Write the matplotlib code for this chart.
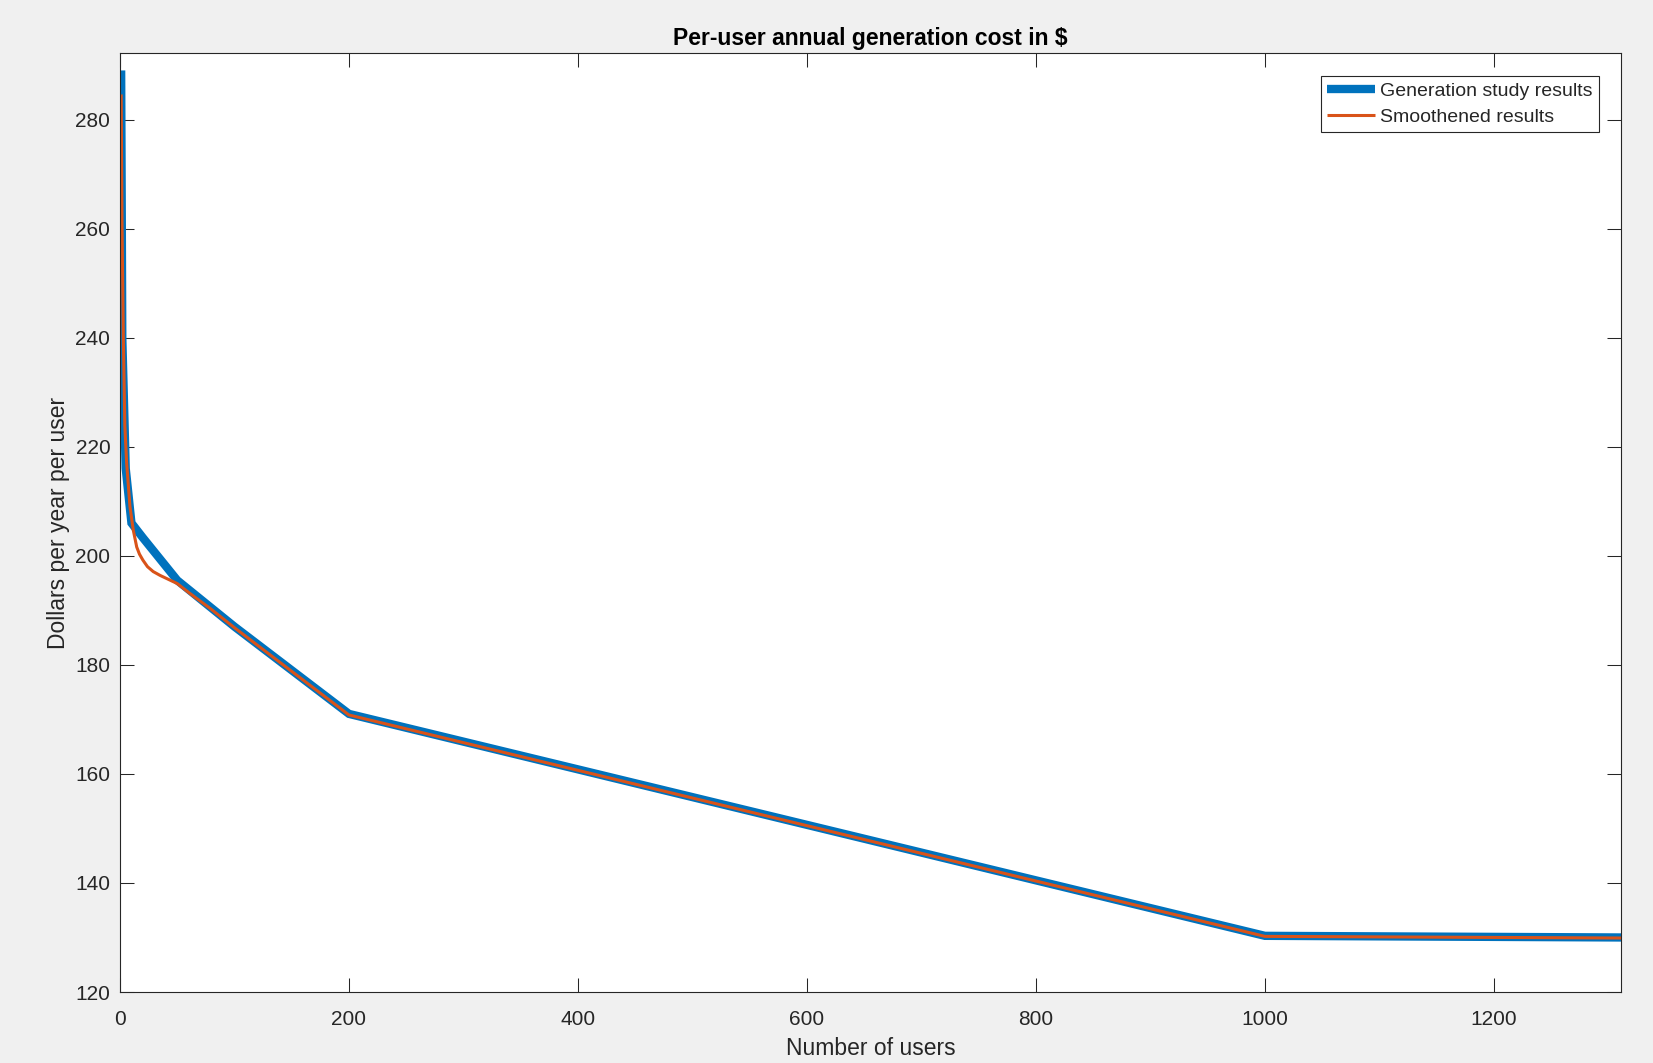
import matplotlib
matplotlib.use('Agg')
import matplotlib.pyplot as plt

plt.rcParams['font.family'] = ['Liberation Sans', 'DejaVu Sans']

# Результаты расчёта генерации
users_study = [1, 2, 5, 10, 20, 50, 100, 200, 1000, 1311]
cost_study = [289.0, 240.0, 216.0, 206.0, 203.3, 195.5, 187.0, 171.0, 130.3, 130.0]

# Сглаженная кривая
users_smooth = [1, 1.8, 2.9, 4.2, 5.8, 8.7, 11.6, 14.6, 17, 20, 24, 29, 35, 41,
                50, 61, 79, 100, 200, 1000, 1311]
cost_smooth = [284.6, 260.0, 240.0, 224.0, 217.0, 209.0, 204.7, 201.6, 200.3,
               199.2, 198.0, 197.1, 196.4, 195.8, 194.9, 193.1, 190.3, 186.8,
               170.8, 130.2, 129.9]

x_ticks = [0, 200, 400, 600, 800, 1000, 1200]
y_ticks = [120, 140, 160, 180, 200, 220, 240, 260, 280]

blue = '#0072BD'
orange = '#D95319'
dark = '#262626'

fig = plt.figure(figsize=(16.53, 10.63), dpi=100, facecolor='#F0F0F0')
ax = fig.add_axes([120 / 1653, 1 - 992 / 1063, 1501 / 1653, 939 / 1063])

ax.plot(users_study, cost_study, color=blue, linewidth=6.0,
        solid_capstyle='butt', solid_joinstyle='miter',
        label='Generation study results')
ax.plot(users_smooth, cost_smooth, color=orange, linewidth=2.2,
        solid_capstyle='butt', label='Smoothened results')

ax.set_xlim(0, 1311)
ax.set_ylim(120, 292.2)
ax.set_xticks(x_ticks)
ax.set_yticks(y_ticks)

ax.tick_params(direction='in', length=10.4, width=0.75, colors=dark,
               labelsize=15, top=True, right=True)
ax.tick_params(axis='x', pad=13)
ax.tick_params(axis='y', pad=7)
for s in ax.spines.values():
    s.set_color(dark)
    s.set_linewidth(0.8)

ax.set_title('Per-user annual generation cost in $', fontsize=16.5,
             fontweight='bold', color='black', pad=6)
ax.set_xlabel('Number of users', fontsize=16.5, color=dark, labelpad=6)
ax.set_ylabel('Dollars per year per user', fontsize=16.5, color=dark, labelpad=4)

leg = ax.legend(loc='upper right', bbox_to_anchor=(0.9853, 0.9755),
                borderaxespad=0, fontsize=14, fancybox=False, framealpha=1,
                edgecolor=dark, handlelength=2.47, handletextpad=0.26,
                borderpad=0.32, labelspacing=0.44)
leg.get_frame().set_linewidth(0.8)
for t in leg.get_texts():
    t.set_color(dark)

fig.savefig('out.png', dpi=100, facecolor=fig.get_facecolor())
